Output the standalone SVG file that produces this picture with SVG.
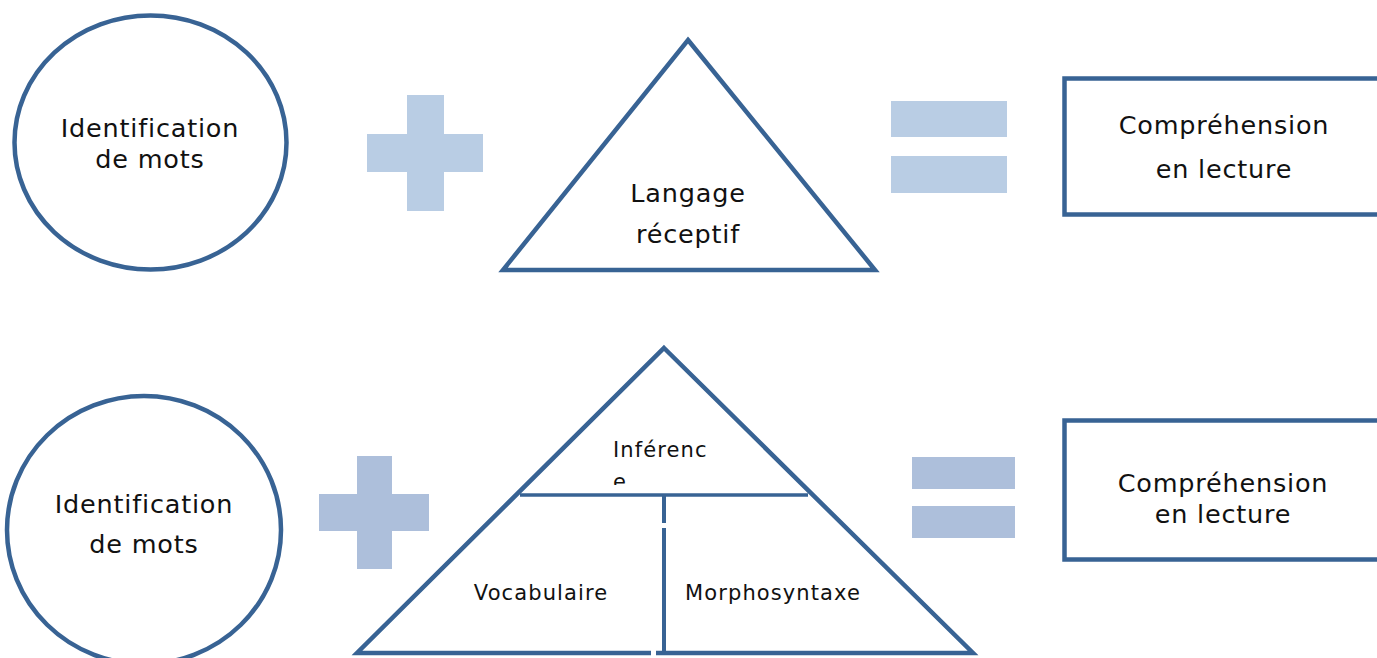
<svg xmlns="http://www.w3.org/2000/svg" width="1377" height="658" viewBox="0 0 1377 658">
  <style>
    .outline { fill: #ffffff; stroke: #386394; stroke-width: 4.5; stroke-linejoin: miter; }
    .line { fill: none; stroke: #386394; }
    .sign-top { fill: #b9cde4; }
    .sign-bot { fill: #adbfdb; }
    .lbl { font-family: "DejaVu Sans", "Liberation Sans", sans-serif; fill: #111111; text-anchor: middle; }
    .big { font-size: 25.5px; letter-spacing: 0.8px; }
    .small { font-size: 21px; letter-spacing: 1.1px; }
  </style>
  <defs>
    <clipPath id="topCell">
      <rect x="500" y="340" width="330" height="145"/>
    </clipPath>
  </defs>
  <rect width="1377" height="658" fill="#ffffff"/>

  <!-- Row 1 -->
  <g id="word-id-1">
    <ellipse class="outline" cx="150.5" cy="142.5" rx="136" ry="127"/>
    <text class="lbl big" x="150" y="137">Identification</text>
    <text class="lbl big" x="150" y="168">de mots</text>
  </g>

  <g id="plus-1">
    <rect class="sign-top" x="407" y="95" width="37" height="116"/>
    <rect class="sign-top" x="367" y="134" width="116" height="38"/>
  </g>

  <g id="language-1">
    <polygon class="outline" points="688,40 875,270 503,270"/>
    <text class="lbl big" x="688" y="202">Langage</text>
    <text class="lbl big" x="688" y="243">réceptif</text>
  </g>

  <g id="equals-1">
    <rect class="sign-top" x="891" y="101" width="116" height="36"/>
    <rect class="sign-top" x="891" y="156" width="116" height="37"/>
  </g>

  <g id="reading-1">
    <rect class="outline" x="1064.5" y="78.5" width="330" height="136"/>
    <text class="lbl big" x="1224" y="134">Compréhension</text>
    <text class="lbl big" x="1224" y="178">en lecture</text>
  </g>

  <!-- Row 2 -->
  <g id="word-id-2">
    <ellipse class="outline" cx="144" cy="530" rx="137" ry="134"/>
    <text class="lbl big" x="144" y="513">Identification</text>
    <text class="lbl big" x="144" y="553">de mots</text>
  </g>

  <g id="plus-2">
    <rect class="sign-bot" x="357" y="456" width="35" height="113"/>
    <rect class="sign-bot" x="319" y="494" width="110" height="37"/>
  </g>

  <g id="language-2">
    <polygon class="outline" points="664,348 973,653 357,653"/>
    <g id="language-2-dividers">
      <line class="line" stroke-width="3.5" x1="520" y1="495" x2="808" y2="495"/>
      <line class="line" stroke-width="4" x1="664" y1="495" x2="664" y2="523"/>
      <line class="line" stroke-width="4" x1="664" y1="528" x2="664" y2="652"/>
    </g>
    <!-- small gap in the base under the divider -->
    <rect x="651" y="649" width="5" height="9" fill="#ffffff"/>
    <!-- the top cell cuts its wrapped second line short -->
    <g clip-path="url(#topCell)">
      <text class="lbl small" x="613" y="457" style="text-anchor:start">Inférenc</text>
      <text class="lbl small" x="613" y="489" style="text-anchor:start">e</text>
    </g>
    <text class="lbl small" x="541" y="600">Vocabulaire</text>
    <text class="lbl small" x="773" y="600">Morphosyntaxe</text>
  </g>

  <g id="equals-2">
    <rect class="sign-bot" x="912" y="457" width="103" height="32"/>
    <rect class="sign-bot" x="912" y="506" width="103" height="32"/>
  </g>

  <g id="reading-2">
    <rect class="outline" x="1064.5" y="420.5" width="330" height="139"/>
    <text class="lbl big" x="1223" y="492">Compréhension</text>
    <text class="lbl big" x="1223" y="523">en lecture</text>
  </g>
</svg>
